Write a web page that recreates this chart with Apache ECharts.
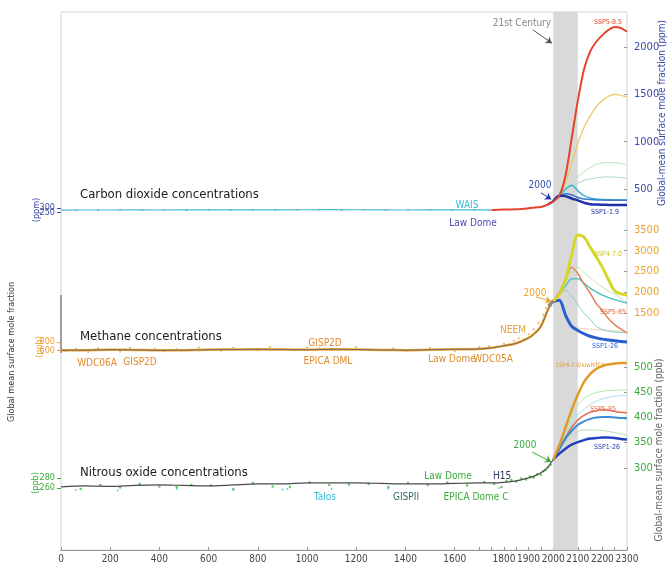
<!DOCTYPE html>
<html>
<head>
<meta charset="utf-8">
<script src="https://cdn.jsdelivr.net/npm/echarts@6/dist/echarts.min.js"></script>
<style>
  html, body { margin: 0; padding: 0; background: #fff; }
  #chart { width: 670px; height: 565px; }
</style>
</head>
<body>
<div id="chart"></div>
<script>
// ---- data ----
const xTickLabels = [0, 200, 400, 600, 800, 1000, 1200, 1400, 1600, 1800, 1900, 2000, 2100, 2200, 2300];
const xTickMarks = [0, 200, 400, 600, 800, 1000, 1200, 1400, 1600, 1700, 1750, 1800, 1850, 1900, 1950, 2000, 2050, 2100, 2150, 2200, 2250, 2300];

const co2RightTicks = [500, 1000, 1500, 2000];
const ch4RightTicks = [1500, 2000, 2500, 3000, 3500];
const n2oRightTicks = [300, 350, 400, 450, 500];
const co2LeftTicks = [250, 300];
const ch4LeftTicks = [600, 800];
const n2oLeftTicks = [260, 280];

const histYears = [0, 100, 200, 300, 400, 500, 600, 700, 800, 900, 1000, 1100, 1200, 1300, 1400, 1500, 1600, 1700, 1750];
const sspYears = [2000, 2025, 2050, 2075, 2100, 2125, 2150, 2175, 2200, 2225, 2250, 2275, 2300];

// carbon dioxide (ppm)
const co2Ice = [277, 278, 278, 279, 278, 279, 280, 279, 280, 280, 281, 282, 281, 279, 278, 279, 280, 279, 277];
const co2DotYears = [60, 150, 240, 330, 420, 510, 600, 690, 780, 870, 960, 1050, 1140, 1230, 1320, 1410, 1500, 1590, 1680];
const co2Dots = [279, 277, 281, 278, 280, 276, 282, 279, 281, 277, 280, 283, 279, 281, 278, 280, 282, 279, 277];
const co2ModernYears = [1750, 1800, 1850, 1900, 1925, 1950, 1975, 2000];
const co2Modern = [277, 283, 285, 296, 305, 311, 331, 370];
const co2RecentYears = [1980, 1990, 2000];
const co2Recent = [339, 354, 370];
const co2Ssp585 = [370, 430, 640, 1030, 1430, 1760, 1950, 2055, 2125, 2180, 2210, 2200, 2160];
const co2Ssp370 = [370, 410, 560, 770, 980, 1150, 1270, 1370, 1435, 1480, 1500, 1490, 1470];
const co2PaleGreen = [370, 410, 500, 570, 630, 680, 725, 760, 775, 780, 778, 768, 755];
const co2PaleTeal = [370, 410, 480, 530, 560, 590, 605, 618, 625, 628, 625, 620, 615];
const co2Cyan = [370, 430, 500, 540, 480, 430, 405, 395, 390, 388, 386, 385, 384];
const co2MidBlue = [370, 420, 450, 440, 410, 395, 388, 385, 383, 382, 381, 380, 380];
const co2Ssp119 = [370, 430, 425, 400, 380, 355, 340, 335, 333, 332, 331, 331, 330];

// methane (ppb)
const ch4HistYears = [0, 100, 200, 300, 400, 500, 600, 700, 800, 900, 1000, 1100, 1200, 1300, 1400, 1500, 1600, 1700, 1750, 1800, 1850, 1900, 1925, 1950, 1975, 1990, 2000];
const ch4Hist = [600, 605, 615, 610, 600, 605, 615, 620, 625, 620, 615, 625, 620, 610, 605, 615, 625, 635, 660, 710, 770, 900, 1010, 1180, 1530, 1720, 1790];
const ch4DotYears = [20, 60, 110, 150, 190, 240, 280, 330, 380, 420, 470, 510, 560, 600, 650, 700, 750, 800, 850, 900, 950, 1000, 1050, 1100, 1150, 1200, 1250, 1300, 1350, 1400, 1450, 1500, 1550, 1600, 1650, 1700, 1740, 1770, 1800, 1820, 1840, 1860, 1880, 1900, 1910, 1920, 1930, 1940, 1950, 1960, 1965, 1970, 1975, 1980];
const ch4Dots = [580, 640, 560, 650, 620, 570, 660, 610, 640, 580, 630, 600, 670, 620, 590, 660, 640, 600, 680, 630, 600, 670, 650, 610, 640, 680, 620, 600, 650, 590, 620, 660, 610, 580, 640, 680, 700, 690, 760, 740, 830, 890, 860, 990, 950, 1110, 1060, 1260, 1210, 1460, 1360, 1620, 1520, 1710];
const ch4InstYears = [1984, 1990, 1995, 2000, 2005, 2010];
const ch4Inst = [1650, 1720, 1760, 1780, 1790, 1810];
const ch4Ssp370 = [1790, 1950, 2300, 2900, 3380, 3330, 3090, 2850, 2600, 2300, 2030, 1960, 1935];
const ch4Ssp585 = [1790, 2000, 2300, 2600, 2450, 2200, 1980, 1730, 1560, 1360, 1220, 1110, 1020];
const ch4PaleGreen = [1790, 2000, 2250, 2500, 2600, 2480, 2350, 2230, 2120, 2030, 1950, 1850, 1765];
const ch4Teal = [1790, 1950, 2150, 2320, 2330, 2220, 2100, 2010, 1930, 1870, 1820, 1780, 1740];
const ch4Teal2 = [1790, 1950, 2050, 1900, 1700, 1500, 1350, 1180, 1100, 1060, 1040, 1030, 1020];
const ch4PaleOrange = [null, null, null, 1160, 1140, 1120, 1110, 1100, 1090, 1080, 1070, 1055, 1042];
const ch4Ssp126 = [1790, 1810, 1450, 1180, 1080, 1000, 940, 900, 870, 850, 830, 815, 800];

// nitrous oxide (ppb)
const n2oHistYears = [0, 100, 200, 300, 400, 500, 600, 700, 800, 900, 1000, 1100, 1200, 1300, 1400, 1500, 1600, 1700, 1750, 1800, 1850, 1900, 1925, 1950, 1975, 2000];
const n2oHist = [262, 264, 263, 265, 266, 265, 264, 266, 268, 268, 270, 270, 270, 269, 268, 268, 269, 270, 270, 271, 274, 280, 284, 290, 300, 316];
const n2oDotYears = [80, 160, 240, 320, 400, 470, 530, 610, 700, 780, 860, 930, 1010, 1090, 1170, 1250, 1330, 1410, 1490, 1570, 1650, 1720, 1760, 1790, 1810, 1830, 1850, 1870, 1890, 1905, 1920, 1935, 1950, 1960, 1970, 1980, 1990];
const n2oDots = [258, 266, 261, 268, 263, 262, 266, 265, 258, 270, 263, 262, 271, 266, 267, 268, 262, 270, 266, 271, 265, 272, 268, 262, 274, 276, 273, 279, 277, 283, 281, 287, 286, 293, 296, 301, 306];
const n2oTalosYears = [60, 230, 470, 700, 900, 920, 1100, 1330, 1780];
const n2oTalos = [256, 255, 258, 256, 257, 258, 258, 259, 260];
const n2oSsp370 = [316, 345, 380, 415, 445, 470, 486, 496, 502, 505, 507, 508, 508];
const n2oPaleGreen = [316, 342, 370, 400, 425, 437, 445, 449, 452, 453, 454, 454, 454];
const n2oPaleCyan = [316, 340, 365, 387, 405, 416, 425, 432, 437, 440, 442, 443, 444];
const n2oSsp585 = [316, 338, 360, 380, 395, 404, 410, 413, 415, 414, 412, 410, 409];
const n2oBlue = [316, 337, 358, 373, 385, 392, 397, 400, 401, 401, 400, 399, 398];
const n2oLowGreen = [316, 335, 350, 363, 372, 375, 375, 375, 374, 372, 370, 367, 365];
const n2oSsp126 = [316, 328, 338, 346, 351, 355, 358, 359, 360, 360, 359, 357, 356];

// ---- chart ----
const FONT = '"Liberation Sans Narrow", "DejaVu Sans Condensed", "Open Sans", sans-serif';
const C_CO2 = '#3b4ba4';
const C_CH4 = '#eea12a';
const C_N2O = '#3aaa3a';

const pairs = (xs, ys) => xs.map((x, i) => [x, ys[i]]);

const line = (name, axis, xs, ys, color, width, extra) => Object.assign({
  name,
  type: 'line',
  yAxisIndex: axis,
  data: pairs(xs, ys),
  showSymbol: false,
  smooth: 0.3,
  lineStyle: { color, width },
  itemStyle: { color },
  silent: true
}, extra || {});

const dots = (name, axis, xs, ys, color, size) => ({
  name,
  type: 'scatter',
  yAxisIndex: axis,
  data: pairs(xs, ys),
  symbolSize: size,
  itemStyle: { color },
  silent: true
});

const arrow = (from, to, color) => ({
  silent: true,
  symbol: ['none', 'arrow'],
  symbolSize: 6,
  label: { show: false },
  lineStyle: { color, width: 1, type: 'solid' },
  data: [[{ coord: from }, { coord: to }]]
});

const plain = (v) => String(v);

const yBase = (min, max, pos, ticks, color, size) => ({
  type: 'value',
  position: pos,
  min, max,
  splitLine: { show: false },
  axisLine: { show: false, onZero: false },
  axisTick: {
    show: true, inside: pos === 'right', length: pos === 'right' ? 3 : 4,
    customValues: ticks, lineStyle: { color: pos === 'right' ? '#999' : color }
  },
  axisLabel: {
    customValues: ticks, formatter: plain, color, fontSize: size, fontFamily: FONT,
    margin: pos === 'right' ? 7 : 6,
    hideOverlap: false, showMinLabel: true, showMaxLabel: true
  }
});

// left side: one axis per tick, so the tightly packed labels are all kept
const leftAxes = (min, max, ticks, color) => ticks.map((t) => yBase(min, max, 'left', [t], color, 9));

const CO2_MIN = -3312, CO2_MAX = 2369;
const CH4_MIN = -4211, CH4_MAX = 8753;
const N2O_MIN = 137, N2O_MAX = 1204;

const txt = (text, x, y, color, size, align, rot) => ({
  type: 'text',
  x, y,
  rotation: rot || 0,
  silent: true,
  z: 100,
  style: {
    text, fill: color,
    font: size + 'px ' + FONT,
    textAlign: align || 'center',
    verticalAlign: 'middle',
    textVerticalAlign: 'middle'
  }
});

const chart = echarts.init(document.getElementById('chart'));

chart.setOption({
  animation: false,
  backgroundColor: '#fff',
  grid: {
    left: 61, right: 43, top: 12, bottom: 15,
    show: true, borderColor: '#d3d3d3', borderWidth: 1,
    outerBoundsMode: 'none'
  },
  xAxis: {
    type: 'value',
    min: 0, max: 2300,
    splitLine: { show: false },
    axisLine: { onZero: false, lineStyle: { color: '#999' } },
    axisTick: { inside: true, length: 3, customValues: xTickMarks, lineStyle: { color: '#999' } },
    axisLabel: {
      customValues: xTickLabels, formatter: plain, color: '#444', fontSize: 10, fontFamily: FONT, margin: 4,
      hideOverlap: false, showMinLabel: true, showMaxLabel: true
    }
  },
  yAxis: [
    yBase(CO2_MIN, CO2_MAX, 'right', co2RightTicks, C_CO2, 11),
    yBase(CH4_MIN, CH4_MAX, 'right', ch4RightTicks, C_CH4, 11),
    yBase(N2O_MIN, N2O_MAX, 'right', n2oRightTicks, C_N2O, 11),
    ...leftAxes(CO2_MIN, CO2_MAX, co2LeftTicks, C_CO2),
    ...leftAxes(CH4_MIN, CH4_MAX, ch4LeftTicks, C_CH4),
    ...leftAxes(N2O_MIN, N2O_MAX, n2oLeftTicks, C_N2O)
  ],
  series: [
    // carbon dioxide
    line('CO2 ice cores', 0, histYears, co2Ice, '#45b5d6', 1.2, {
      smooth: false,
      markArea: {
        silent: true,
        itemStyle: { color: '#d9d9d9' },
        data: [[{ xAxis: 2000 }, { xAxis: 2100 }]]
      },
      markLine: arrow([1918, 2180], [1995, 2040], '#555')
    }),
    dots('CO2 samples', 0, co2DotYears, co2Dots, '#2b3f8f', 1.5),
    line('CO2 recent', 0, co2RecentYears, co2Recent, '#2030a8', 2.5, {
      markLine: arrow([1950, 460], [1992, 392], '#2030a8')
    }),
    line('CO2 Law Dome/instrumental', 0, co2ModernYears, co2Modern, '#e2452b', 2),
    line('CO2 SSP3-7.0', 0, sspYears, co2Ssp370, '#ecc75a', 1.2),
    line('CO2 pale green', 0, sspYears, co2PaleGreen, '#b5e3b5', 1),
    line('CO2 pale teal', 0, sspYears, co2PaleTeal, '#a5dccf', 1),
    line('CO2 cyan', 0, sspYears, co2Cyan, '#35b8d0', 1.5),
    line('CO2 mid blue', 0, sspYears, co2MidBlue, '#3a78c8', 1.5),
    line('CO2 SSP1-1.9', 0, sspYears, co2Ssp119, '#2030a8', 2.5),
    line('CO2 SSP5-8.5', 0, sspYears, co2Ssp585, '#e2452b', 2),

    // methane
    line('CH4 ice cores', 1, ch4HistYears, ch4Hist, '#eea63c', 2.5, {
      markLine: arrow([1930, 1890], [1992, 1775], C_CH4)
    }),
    dots('CH4 samples', 1, ch4DotYears, ch4Dots, '#e8951e', 2),
    line('CH4 smoothed', 1, ch4HistYears, ch4Hist, '#555', 0.8),
    line('CH4 instrumental', 1, ch4InstYears, ch4Inst, '#8a8a8a', 3.5),
    line('CH4 pale orange', 1, sspYears, ch4PaleOrange, '#f3cfa8', 1),
    line('CH4 pale green', 1, sspYears, ch4PaleGreen, '#c2e6b0', 1),
    line('CH4 teal 2', 1, sspYears, ch4Teal2, '#7fd3cc', 1),
    line('CH4 teal', 1, sspYears, ch4Teal, '#45c0c0', 1.3),
    line('CH4 SSP5-8.5', 1, sspYears, ch4Ssp585, '#e0825a', 1.5),
    line('CH4 SSP1-2.6', 1, sspYears, ch4Ssp126, '#2a5fd0', 3),
    line('CH4 SSP3-7.0', 1, sspYears, ch4Ssp370, '#d8d62c', 3),

    // nitrous oxide
    dots('N2O samples', 2, n2oDotYears, n2oDots, '#3cb83c', 2.5),
    dots('N2O Talos', 2, n2oTalosYears, n2oTalos, '#35c0d8', 2),
    line('N2O smoothed', 2, n2oHistYears, n2oHist, '#4a4a4a', 1.2, {
      markLine: arrow([1915, 331], [1992, 312], C_N2O)
    }),
    line('N2O pale green', 2, sspYears, n2oPaleGreen, '#b5e6a5', 1),
    line('N2O pale cyan', 2, sspYears, n2oPaleCyan, '#a5e0ea', 1),
    line('N2O low green', 2, sspYears, n2oLowGreen, '#b8ddb0', 1),
    line('N2O SSP5-8.5', 2, sspYears, n2oSsp585, '#e06a4a', 1.5),
    line('N2O blue', 2, sspYears, n2oBlue, '#3a8ad8', 2),
    line('N2O SSP1-2.6', 2, sspYears, n2oSsp126, '#2040c0', 2.5),
    line('N2O SSP3-7.0', 2, sspYears, n2oSsp370, '#e09a2a', 2.5)
  ],
  graphic: [
    { type: 'line', silent: true, shape: { x1: 61, y1: 295, x2: 61, y2: 353 }, style: { stroke: '#555', lineWidth: 1 } },

    txt('Global mean surface mole fraction', 12, 352, '#333', 9, 'center', Math.PI / 2),
    txt('(ppm)', 37, 210, C_CO2, 9, 'center', Math.PI / 2),
    txt('(ppb)', 40, 347, C_CH4, 9, 'center', Math.PI / 2),
    txt('(ppb)', 36, 483, C_N2O, 9, 'center', Math.PI / 2),
    txt('Global-mean surface mole fraction (ppm)', 662, 113, C_CO2, 10, 'center', Math.PI / 2),
    txt('Global-mean surface mole fraction (ppb)', 659, 450, '#666', 10, 'center', Math.PI / 2),

    txt('Carbon dioxide concentrations', 80, 195, '#1a1a1a', 13, 'left'),
    txt('Methane concentrations', 80, 337, '#1a1a1a', 13, 'left'),
    txt('Nitrous oxide concentrations', 80, 473, '#1a1a1a', 13, 'left'),

    txt('21st Century', 522, 23, '#888', 10),
    txt('SSP5-8.5', 608, 22, '#e2452b', 7),
    txt('SSP1-1.9', 605, 212, '#2030a8', 7),
    txt('2000', 540, 185, C_CO2, 10),
    txt('WAIS', 467, 205, '#35bcd6', 10),
    txt('Law Dome', 473, 223, '#4a4ab0', 10),

    txt('SSP4-7.0', 608, 254, '#c8c61c', 7),
    txt('SSP5-85', 613, 312, '#d8623a', 7),
    txt('SSP1-26', 605, 346, '#2a5fd0', 7),
    txt('2000', 535, 293, C_CH4, 10),
    txt('NEEM', 513, 330, C_CH4, 10),
    txt('WDC06A', 97, 363, '#e08a2a', 10),
    txt('GISP2D', 140, 362, '#e08a2a', 10),
    txt('GISP2D', 325, 343, '#e08a2a', 10),
    txt('EPICA DML', 328, 361, '#e08a2a', 10),
    txt('Law Dome', 452, 359, '#e08a2a', 10),
    txt('WDC05A', 493, 359, '#e08a2a', 10),

    txt('SSP4-7.0/lowNTCF', 580, 365, '#e09a2a', 6),
    txt('SSP5-85', 603, 409, '#e06a4a', 7),
    txt('SSP1-26', 607, 447, '#2040c0', 7),
    txt('2000', 525, 445, C_N2O, 10),
    txt('Law Dome', 448, 476, C_N2O, 10),
    txt('H15', 502, 476, '#2d3a5a', 10),
    txt('Talos', 325, 497, '#35bcd6', 10),
    txt('GISPII', 406, 497, '#2a6a6a', 10),
    txt('EPICA Dome C', 476, 497, C_N2O, 10)
  ]
});
</script>
</body>
</html>
